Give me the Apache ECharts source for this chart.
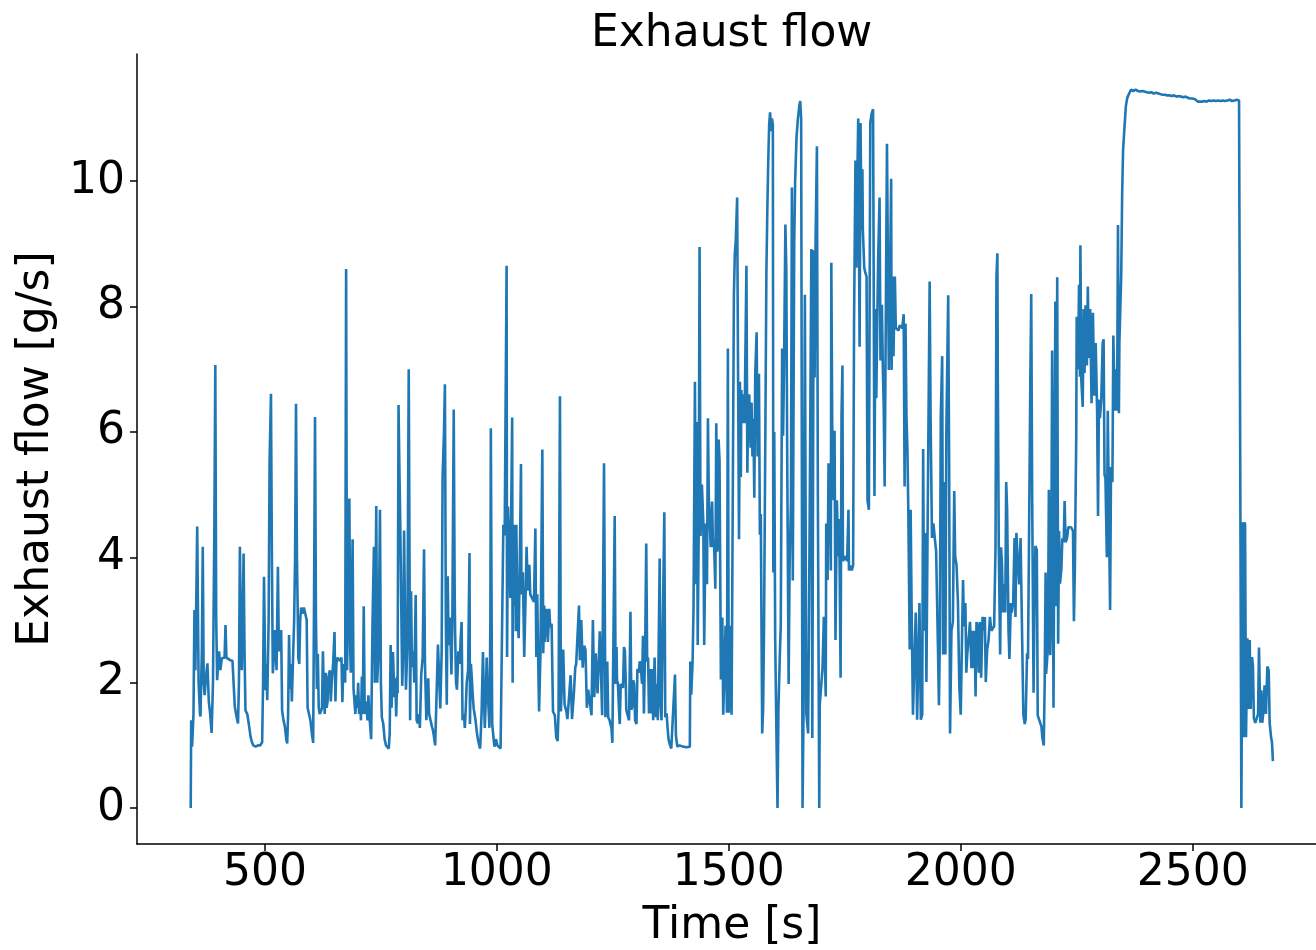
<!DOCTYPE html>
<html><head><meta charset="utf-8">
<script src="https://cdn.jsdelivr.net/npm/echarts@6/dist/echarts.min.js"></script>
<style>html,body{margin:0;padding:0;background:#fff}#c{width:1316px;height:950px}</style>
</head><body><div id="c"></div>
<script>
// [time s, exhaust flow g/s], in time segments
const seg340 = [[340,0],[341,1.4],[343,0.98],[346,1.5],[348,3.16],[350,2.2],[354,4.49],[357,2.0],[360,1.5],[361,1.46],[364,2.5],[366,4.17],[368,2.0],[370,1.8],[373,2.1],[376,2.31],[379,1.7],[382,1.5],[385,1.2],[388,2.0],[391,4.5],[393,7.07],[395,3.0],[397,2.04],[399,2.3],[401,2.5],[404,2.2],[407,2.39],[410,2.37],[413,2.4],[415,2.92],[417,2.4],[420,2.37],[425,2.36],[430,2.35],[433,2.35],[435,1.62],[439,1.45],[442,1.35],[444,2.0],[446,4.17],[448,2.9],[450,2.2],[452,3.0],[454,4.06],[456,2.5],[458,1.56],[462,1.5],[466,1.3],[469,1.14],[472,1.05],[475,1.0],[480,0.98],[485,1.0],[490,1.0],[494,1.05],[496,2.0],[498,3.69],[500,2.5],[501,1.88],[503,2.3],[505,1.72],[508,3.0],[510,5.5],[513,6.61],[515,4.0],[517,2.15],[520,2.5],[522,2.84],[525,2.2],[528,3.85],[530,2.5],[533,2.7],[535,2.84],[537,1.56],[540,1.4],[543,1.3],[546,1.1],[548,1.03],[550,1.5]];
const seg552 = [[552,2.76],[554,1.9],[556,2.3],[558,1.7],[561,2.5],[563,3.0],[565,4.0],[567,6.45],[569,4.0],[570,3.5],[572,2.4],[574,2.3],[576,3.0],[578,3.2],[581,3.1],[584,3.2],[587,3.1],[590,3.0],[592,1.6],[595,1.5],[598,1.4],[601,1.2],[604,1.04],[606,3.5],[608,6.24],[610,3.0],[612,1.9],[614,2.46],[616,1.6],[618,1.5],[621,1.55],[623,1.6],[625,2.5],[627,1.8],[629,1.5],[631,2.16],[633,1.6],[635,1.7],[637,2.1],[640,2.2],[642,1.7],[644,2.0],[647,2.3],[650,2.81],[652,1.7],[654,2.3],[656,2.4],[659,2.4],[662,2.35],[665,2.4],[667,1.69],[669,2.3],[671,2.2],[673,2.0],[675,8.6],[677,2.2],[679,3.0],[682,4.94],[684,2.5],[685,2.16],[687,3.0],[689,4.29],[691,1.9],[693,1.7],[695,1.5],[697,1.8],[699,1.6],[701,2.0],[703,1.5],[705,1.7],[707,1.4],[709,2.1],[711,1.5],[713,3.22],[715,1.6],[717,1.5],[719,1.7],[721,1.4],[723,1.8],[725,1.5],[727,1.3],[729,1.1],[732,3.0],[735,4.17],[737,2.0],[740,4.82],[742,2.0],[745,2.5],[748,4.76],[750,2.0],[752,1.45],[755,1.35],[758,1.1],[761,1.0],[764,0.97],[767,0.95],[769,1.2],[771,2.6]];
const seg773 = [[773,1.6],[776,2.49],[779,1.77],[781,2.07],[783,1.46],[785,2.1],[786,1.83],[788,6.43],[790,5.34],[792,4.4],[794,4.43],[796,1.95],[798,2.5],[800,4.43],[802,3.0],[804,1.89],[807,2.6],[810,7.0],[812,3.46],[813,1.4],[815,3.46],[817,2.25],[820,2.5],[822,2.0],[825,3.4],[827,1.4],[830,1.35],[832,1.5],[834,1.28],[837,2.13],[840,2.4],[843,4.13],[845,2.31],[848,1.4],[850,1.8],[852,2.07],[854,1.5],[857,1.4],[860,1.3],[862,1.25],[864,1.16],[867,1.0],[870,0.97],[871,2.07],[873,2.61],[876,2.0],[878,1.59],[881,2.5],[883,5.28],[886,6.0],[888,6.76],[890,3.0],[892,1.65],[894,3.7],[896,2.6],[899,3.04],[902,2.13],[904,3.0],[907,6.36],[909,3.5],[910,2.8],[912,2.0],[914,1.89],[917,2.5],[920,2.3],[922,2.7],[924,2.97],[926,1.4],[929,1.5],[931,1.28],[933,1.6],[935,2.0],[938,2.2],[941,4.07],[942,1.34],[944,2.3],[946,2.07],[948,1.8],[950,1.59],[952,1.5],[954,1.4],[957,1.2],[959,1.1],[962,1.0],[964,0.95],[967,1.5],[970,2.49],[972,1.8],[974,1.28],[976,1.7],[978,2.4],[980,1.9],[982,1.6],[984,1.28],[986,3.0],[987,6.06],[989,2.5],[990,1.34],[993,1.1],[995,0.98]];
const seg998 = [[998,1.1],[1001,1.0],[1004,0.98],[1008,0.95],[1011,0.96],[1014,4.52],[1016,4.35],[1017,4.52],[1021,8.65],[1022,2.41],[1024,4.81],[1027,4.06],[1029,3.35],[1033,6.23],[1034,2.0],[1035,4.52],[1037,3.23],[1039,4.52],[1041,2.82],[1042,4.52],[1044,3.18],[1047,2.71],[1050,4.23],[1052,5.49],[1053,3.41],[1056,3.76],[1059,2.41],[1062,3.41],[1064,4.17],[1067,3.47],[1070,3.88],[1072,3.41],[1076,3.35],[1080,3.29],[1083,4.46],[1085,2.41],[1087,3.41],[1089,2.41],[1091,1.54],[1094,2.47],[1098,5.72],[1100,2.47],[1102,3.23],[1103,2.65],[1107,3.18],[1110,2.65],[1113,3.18],[1115,2.88],[1118,2.94],[1121,1.54],[1125,1.48],[1128,1.13],[1131,1.07],[1133,1.54],[1136,6.57],[1138,1.54],[1141,1.54],[1143,2.53],[1146,1.65],[1150,1.54],[1152,1.42],[1155,1.71],[1159,2.12],[1162,1.42],[1166,1.83],[1169,2.24],[1171,2.3],[1175,2.3],[1177,3.23],[1179,2.36],[1182,3.0],[1185,2.24],[1188,2.59],[1191,2.53],[1194,1.6],[1197,1.89],[1200,1.71],[1204,1.48],[1207,3.0],[1210,1.77],[1213,2.47],[1217,1.83],[1222,2.82],[1224,2.3],[1227,1.48],[1231,5.5]];
const seg1234 = [[1234,1.45],[1238,2.34],[1240,1.45],[1243,1.4],[1247,1.28],[1249,1.04],[1252,1.04],[1254,4.66],[1256,1.98],[1258,2.57],[1259,2.04],[1261,1.98],[1264,1.45],[1265,1.34],[1267,1.98],[1270,1.98],[1272,1.92],[1274,2.57],[1276,2.51],[1278,1.98],[1279,1.57],[1283,1.45],[1285,1.4],[1288,3.13],[1290,1.57],[1292,1.63],[1294,2.04],[1296,1.98],[1298,1.4],[1301,1.34],[1303,2.22],[1306,2.16],[1308,2.34],[1310,2.28],[1313,1.98],[1315,2.75],[1317,1.51],[1320,2.75],[1322,4.22],[1324,2.34],[1326,2.4],[1328,1.51],[1331,2.22],[1333,1.51],[1335,2.22],[1337,1.4],[1340,2.4],[1343,1.45],[1345,1.98],[1347,1.4],[1350,1.4],[1351,3.98],[1353,1.63],[1355,1.4],[1358,1.4],[1361,4.72],[1363,1.45],[1366,1.51],[1368,1.28],[1370,1.1],[1373,1.01],[1376,0.95],[1380,0.98],[1384,2.13],[1386,1.16],[1389,0.98],[1394,1.0],[1398,0.97],[1401,0.98],[1405,0.96],[1409,0.97],[1412,0.98],[1416,0.98],[1417,2.34],[1419,1.81],[1422,2.34],[1424,3.22],[1427,6.8],[1429,3.57],[1431,6.16],[1433,2.6],[1435,4.34],[1437,8.95],[1439,4.34],[1442,5.16],[1445,4.57],[1447,2.6],[1450,4.54],[1453,3.57],[1455,6.22],[1457,4.92]];
const seg1459 = [[1459,4.95],[1461,4.16],[1464,4.89],[1466,4.16],[1468,4.29],[1471,3.5],[1473,6.14],[1475,4.09],[1477,4.23],[1478,5.88],[1480,5.55],[1483,2.05],[1486,3.04],[1488,1.49],[1491,1.49],[1493,2.91],[1496,1.52],[1498,7.33],[1500,1.52],[1502,2.91],[1504,2.84],[1506,1.49],[1509,5.55],[1511,8.19],[1513,8.85],[1515,9.05],[1518,9.74],[1520,6.87],[1522,4.29],[1524,6.8],[1526,5.28],[1527,6.67],[1529,6.14],[1531,6.6],[1534,6.14],[1538,8.65],[1540,5.35],[1542,6.47],[1544,6.6],[1547,5.75],[1549,6.47],[1551,5.61],[1553,6.21],[1555,4.95],[1557,6.93],[1560,7.59],[1562,5.61],[1565,6.93],[1567,4.36],[1569,4.69],[1572,1.19],[1574,1.58],[1576,2.91],[1579,6.21],[1581,8.52],[1583,9.51],[1585,10.3],[1587,10.9],[1589,11.1],[1591,10.8],[1593,11.0],[1595,10.9],[1596,3.76],[1598,6.0],[1600,2.71],[1603,1.0],[1605,0],[1607,1.58],[1610,2.44],[1612,2.91],[1615,7.33],[1617,5.94],[1619,7.0],[1622,9.31],[1624,8.59],[1626,5.5],[1629,1.98],[1631,3.83],[1634,4.89],[1636,9.9],[1638,3.63],[1641,9.0],[1643,10.0],[1646,10.7],[1649,11.0],[1652,11.2],[1654,11.28],[1656,11.0],[1659,0],[1661,1.5],[1664,8.19],[1667,1.52],[1671,1.19],[1674,4.23],[1678,8.92],[1680,1.12],[1683,8.9],[1685,6.87]];
const seg1687 = [[1687,9.0],[1690,10.56],[1692,5.0],[1695,0],[1696,1.64],[1700,1.64],[1702,2.23],[1705,3.05],[1707,2.38],[1709,1.78],[1710,4.54],[1713,3.64],[1715,5.5],[1718,5.06],[1720,3.79],[1721,8.7],[1723,6.1],[1726,4.91],[1728,6.02],[1730,2.68],[1733,4.91],[1736,4.02],[1738,4.61],[1741,2.08],[1743,6.25],[1745,7.06],[1746,3.94],[1749,3.94],[1752,4.02],[1755,3.94],[1758,4.76],[1759,3.79],[1762,3.87],[1765,3.79],[1768,3.87],[1770,7.73],[1773,10.33],[1775,8.62],[1777,9.96],[1779,11.0],[1781,8.62],[1782,7.36],[1784,10.93],[1786,9.22],[1788,10.19],[1789,9.22],[1792,8.62],[1794,8.55],[1797,8.48],[1799,4.91],[1802,4.76],[1805,10.93],[1808,11.08],[1811,11.15],[1812,9.22],[1814,4.98],[1816,7.96],[1818,6.54],[1820,7.73],[1822,8.77],[1825,9.74],[1827,7.14],[1830,8.03],[1832,7.06],[1834,6.39],[1836,5.13],[1838,7.29],[1841,10.6],[1843,8.7],[1845,6.99],[1848,8.7],[1850,10.04],[1851,6.99],[1853,8.48],[1855,7.21],[1858,8.48],[1860,7.66],[1863,7.66],[1866,7.62],[1868,7.7],[1871,7.73],[1874,7.66],[1877,7.88],[1879,5.13],[1881,7.73],[1883,6.25],[1885,5.73],[1887,4.76],[1890,2.53],[1892,4.76],[1894,3.27],[1897,1.49],[1901,1.49]];
const seg1903 = [[1903,3.12],[1906,1.41],[1909,1.41],[1911,3.27],[1914,1.41],[1917,1.49],[1919,5.73],[1921,2.83],[1924,4.39],[1926,2.01],[1928,3.94],[1931,3.94],[1933,8.4],[1935,6.25],[1938,4.31],[1941,4.54],[1944,4.31],[1947,4.09],[1951,2.53],[1953,1.64],[1955,2.75],[1957,6.25],[1960,7.21],[1962,2.45],[1964,5.2],[1967,2.45],[1969,6.02],[1973,8.18],[1975,5.5],[1977,1.19],[1980,2.83],[1983,2.97],[1986,5.06],[1988,4.02],[1991,3.87],[1994,3.27],[1997,1.93],[2000,1.49],[2003,2.83],[2005,3.64],[2007,2.9],[2010,3.27],[2012,2.16],[2014,2.45],[2017,2.45],[2020,2.97],[2023,2.23],[2025,2.83],[2027,2.23],[2030,2.83],[2032,1.78],[2034,2.97],[2036,2.9],[2039,2.16],[2041,2.97],[2044,2.08],[2047,3.05],[2049,2.83],[2052,3.05],[2054,2.01],[2057,2.53],[2060,2.68],[2063,3.05],[2066,2.83],[2069,2.83],[2072,2.9],[2075,4.16],[2077,8.48],[2079,8.85],[2080,6.77],[2082,4.16],[2085,2.45],[2087,4.16],[2089,3.87],[2091,3.12],[2093,3.57],[2096,3.12],[2098,5.2],[2100,4.76],[2103,2.83],[2105,2.38],[2108,3.27],[2110,3.12],[2113,3.27],[2116,4.31],[2118,3.05],[2120,4.39],[2123,3.94],[2126,3.57],[2129,4.31],[2132,4.31],[2135,1.49],[2138,1.34]];
const seg2140 = [[2140,1.42],[2143,2.47],[2145,2.38],[2147,4.06],[2150,6.8],[2152,8.2],[2154,5.0],[2157,1.84],[2159,3.22],[2161,4.18],[2164,4.12],[2166,1.48],[2170,1.48],[2174,1.3],[2176,1.12],[2179,1.0],[2181,2.02],[2183,3.76],[2184,2.14],[2188,2.56],[2190,5.08],[2193,2.44],[2195,3.22],[2197,7.3],[2200,1.6],[2202,5.02],[2204,8.08],[2206,3.22],[2208,8.47],[2210,2.62],[2212,4.42],[2214,3.58],[2217,3.82],[2219,4.3],[2222,4.24],[2224,4.9],[2226,4.24],[2229,4.3],[2232,4.48],[2235,4.51],[2238,4.48],[2242,4.42],[2244,2.98],[2246,3.82],[2249,5.92],[2250,7.84],[2253,7.0],[2255,8.35],[2257,6.88],[2258,8.98],[2260,6.82],[2263,6.4],[2265,7.96],[2267,6.94],[2269,8.02],[2272,7.06],[2274,8.32],[2276,7.18],[2279,7.96],[2282,6.46],[2285,7.9],[2288,6.58],[2291,7.42],[2294,6.34],[2296,4.66],[2298,6.52],[2300,6.22],[2303,6.52],[2306,7.42],[2308,7.48],[2310,5.32],[2312,5.26],[2315,4.0],[2317,6.34],[2319,5.02],[2322,3.16],[2324,5.44],[2327,5.2],[2329,7.54],[2332,6.34],[2334,7.0],[2337,6.34],[2339,9.3],[2341,6.3],[2342,7.42],[2344,7.4]];
const seg2346 = [[2346,8.5],[2348,9.8],[2350,10.5],[2353,10.86],[2356,11.2],[2359,11.33],[2363,11.4],[2367,11.46],[2372,11.44],[2377,11.46],[2382,11.44],[2387,11.43],[2392,11.44],[2396,11.42],[2401,11.42],[2406,11.41],[2411,11.42],[2416,11.4],[2421,11.41],[2425,11.4],[2430,11.39],[2435,11.38],[2440,11.38],[2445,11.37],[2450,11.37],[2455,11.36],[2460,11.37],[2465,11.35],[2470,11.36],[2475,11.35],[2480,11.34],[2485,11.35],[2490,11.33],[2495,11.32],[2500,11.32],[2505,11.31],[2508,11.3],[2511,11.27],[2515,11.26],[2520,11.27],[2525,11.28],[2530,11.27],[2535,11.29],[2540,11.28],[2545,11.29],[2550,11.28],[2555,11.29],[2560,11.28],[2565,11.29],[2570,11.28],[2575,11.29],[2580,11.3],[2585,11.28],[2590,11.29],[2595,11.3],[2600,11.29],[2604,11.3]];
const seg2605 = [[2605,0],[2608,4.56],[2610,1.13],[2612,4.56],[2613,4.52],[2615,1.13],[2618,2.71],[2620,1.58],[2623,2.68],[2625,1.58],[2628,2.41],[2630,2.26],[2632,1.43],[2635,1.36],[2638,1.36],[2641,1.5],[2643,2.56],[2646,1.36],[2648,1.88],[2650,1.36],[2652,1.5],[2655,1.96],[2658,1.5],[2661,2.26],[2664,2.19],[2666,1.36],[2669,1.13],[2671,1.05],[2673,0.75]];

const xTickValues = [500, 1000, 1500, 2000, 2500];
const yTickValues = [0, 2, 4, 6, 8, 10];
const titleText = 'Exhaust flow';
const xName = 'Time [s]';
const yName = 'Exhaust flow [g/s]';

const flowData = [].concat(seg340, seg552, seg773, seg998, seg1234, seg1459, seg1687, seg1903, seg2140, seg2346, seg2605);

const FONT = 'DejaVu Sans';
const chart = echarts.init(document.getElementById('c'), null, {renderer: 'canvas'});
chart.setOption({
  animation: false,
  backgroundColor: '#ffffff',
  title: {
    text: titleText, left: 586, top: 8,
    textStyle: {fontFamily: FONT, fontSize: 44, fontWeight: 'normal', color: '#000'}
  },
  grid: {left: 137, right: -11, top: 54, bottom: 106, containLabel: false, outerBoundsMode: 'none'},
  xAxis: {
    type: 'value', min: 224.2, max: 2789.6,
    name: xName, nameLocation: 'middle', nameGap: 61,
    nameTextStyle: {fontFamily: FONT, fontSize: 44, color: '#000'},
    splitLine: {show: false},
    axisLine: {onZero: false, lineStyle: {color: '#000', width: 1.5}},
    axisTick: {length: 7, lineStyle: {color: '#000', width: 1.5}, customValues: xTickValues},
    axisLabel: {customValues: xTickValues, formatter: v => String(v), fontFamily: FONT, fontSize: 44, color: '#000', margin: 8}
  },
  yAxis: {
    type: 'value', min: -0.573, max: 12.03,
    name: yName, nameLocation: 'middle', nameGap: 66, nameRotate: 90,
    nameTextStyle: {fontFamily: FONT, fontSize: 44, color: '#000'},
    splitLine: {show: false},
    axisLine: {show: true, onZero: false, lineStyle: {color: '#000', width: 1.5}},
    axisTick: {show: true, length: 7, lineStyle: {color: '#000', width: 1.5}, customValues: yTickValues},
    axisLabel: {customValues: yTickValues, formatter: v => String(v), fontFamily: FONT, fontSize: 44, color: '#000', margin: 12}
  },
  series: [{
    type: 'line', data: flowData, showSymbol: false, symbol: 'none',
    lineStyle: {color: '#1f77b4', width: 2.6}, clip: true
  }]
});
</script></body></html>
